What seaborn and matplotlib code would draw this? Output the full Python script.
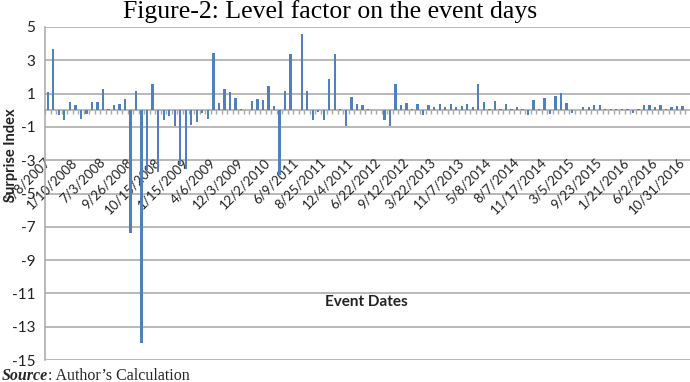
import matplotlib
matplotlib.use("Agg")
import matplotlib.pyplot as plt
import seaborn as sns
import pandas as pd
import numpy as np

values = [1.1, 3.7, -0.26, -0.56, 0.5, 0.3, -0.5, -0.2, 0.5, 0.5,
          1.25, 0.05, 0.32, 0.38, 0.7, -7.4, 1.15, -14.0, -3.6, 1.55,
          -3.7, -0.6, -0.33, -0.93, -3.25, -3.5, -0.9, -0.72, -0.18, -0.55,
          3.45, 0.42, 1.3, 1.1, 0.74, 0.1, 0.02, 0.58, 0.7, 0.64,
          1.43, 0.28, -3.9, 1.17, 3.35, 0.02, 4.6, 1.17, -0.6, -0.12,
          -0.6, 1.85, 3.35, 0.05, -0.95, 0.8, 0.4, 0.3, 0.05, 0.03,
          0.02, -0.6, -0.95, 1.55, 0.34, 0.44, 0.05, 0.4, -0.3, 0.3,
          0.2, 0.38, 0.2, 0.38, 0.2, 0.28, 0.35, 0.2, 1.55, 0.48,
          0.05, 0.58, 0.1, 0.38, 0.05, 0.22, 0.05, -0.3, 0.64, 0.08,
          0.76, -0.22, 0.88, 1.03, 0.44, -0.16, 0.02, 0.22, 0.22, 0.3,
          0.3, 0.05, 0.05, 0.05, 0.08, 0.05, -0.18, 0.05, 0.34, 0.3,
          0.2, 0.3, 0.08, 0.22, 0.24, 0.26]

date_labels = ["3/8/2007", "1/10/2008", "7/3/2008", "9/26/2008", "10/15/2008",
               "1/15/2009", "4/6/2009", "12/3/2009", "12/2/2010", "6/9/2011",
               "8/25/2011", "12/4/2011", "6/22/2012", "9/12/2012", "3/22/2013",
               "11/7/2013", "5/8/2014", "8/7/2014", "11/17/2014", "3/5/2015",
               "9/23/2015", "1/21/2016", "6/2/2016", "10/31/2016"]
label_step = 5

y_ticks = [5, 3, 1, -1, -3, -5, -7, -9, -11, -13, -15]

title = "Figure-2: Level factor on the event days"
x_title = "Event Dates"
y_title = "Surprise Index"
source_bold = "Source"
source_rest = ": Author\u2019s Calculation"

sns.set_theme(style="white")
plt.rcParams['font.family'] = ['Lato', 'DejaVu Sans']

n = len(values)
df = pd.DataFrame({"idx": list(range(n)), "val": values})

W, H = 690, 382
fig = plt.figure(figsize=(W / 100, H / 100), dpi=100)
left_px, right_px, top_px, bot_px = 45, 690, 27, 360
step_px = 5.52
ax = fig.add_axes([left_px / W, 1 - bot_px / H, (right_px - left_px) / W, (bot_px - top_px) / H])

grid_c = "#A6A6A6"
for yt in y_ticks:
    ax.axhline(yt, color=grid_c, lw=1.1, zorder=0)

sns.barplot(data=df, x="idx", y="val", color="#4F81BD", width=0.42,
            saturation=1, linewidth=0, ax=ax, zorder=3)

ax.set_xlim(-0.5, -0.5 + (right_px - left_px) / step_px)
ax.set_ylim(-15, 5)
ax.set_yticks(y_ticks)
ax.set_yticklabels([str(v) for v in y_ticks], fontsize=11, color="#222222")

for s in ["top", "right"]:
    ax.spines[s].set_visible(False)
ax.spines["left"].set_color(grid_c)
ax.spines["left"].set_linewidth(1.1)
ax.spines["bottom"].set_position(("data", 0))
ax.spines["bottom"].set_color(grid_c)
ax.spines["bottom"].set_linewidth(1.1)

ax.set_xticks(list(range(0, n, label_step)))
ax.set_xticklabels(date_labels, rotation=45, ha="right", va="center",
                   rotation_mode="anchor", fontsize=9.5, color="#222222")
ax.set_xticks([i + 0.5 for i in range(-1, n)], minor=True)
ax.tick_params(axis="x", which="major", length=0, pad=36)
ax.tick_params(axis="x", which="minor", length=3, width=1, color=grid_c, direction="out", bottom=True)
ax.tick_params(axis="y", length=0, pad=7)
ax.set_xlabel("")
ax.set_ylabel("")

fig.text(11 / W, 1 - 155 / H, y_title, rotation=90, ha="center", va="center",
         fontsize=10.5, fontweight="bold", color="#222222")
fig.text(366 / W, 1 - 302 / H, x_title, ha="center", va="center",
         fontsize=11, fontweight="bold", color="#222222")

fig.text(330 / W, 1 - 12 / H, title, ha="center", va="center",
         fontsize=18.5, family="Liberation Serif", color="black")

t1 = fig.text(0.002, 1 - 375.5 / H, source_bold, ha="left", va="center", fontsize=11.5,
              family="Liberation Serif", fontweight="bold", style="italic")
fig.canvas.draw()
bb = t1.get_window_extent(renderer=fig.canvas.get_renderer())
fig.text((bb.x1 + 0.5) / W, 1 - 375.5 / H, source_rest, ha="left", va="center",
         fontsize=11.5, family="Liberation Serif")

fig.savefig("out.png", dpi=100)
